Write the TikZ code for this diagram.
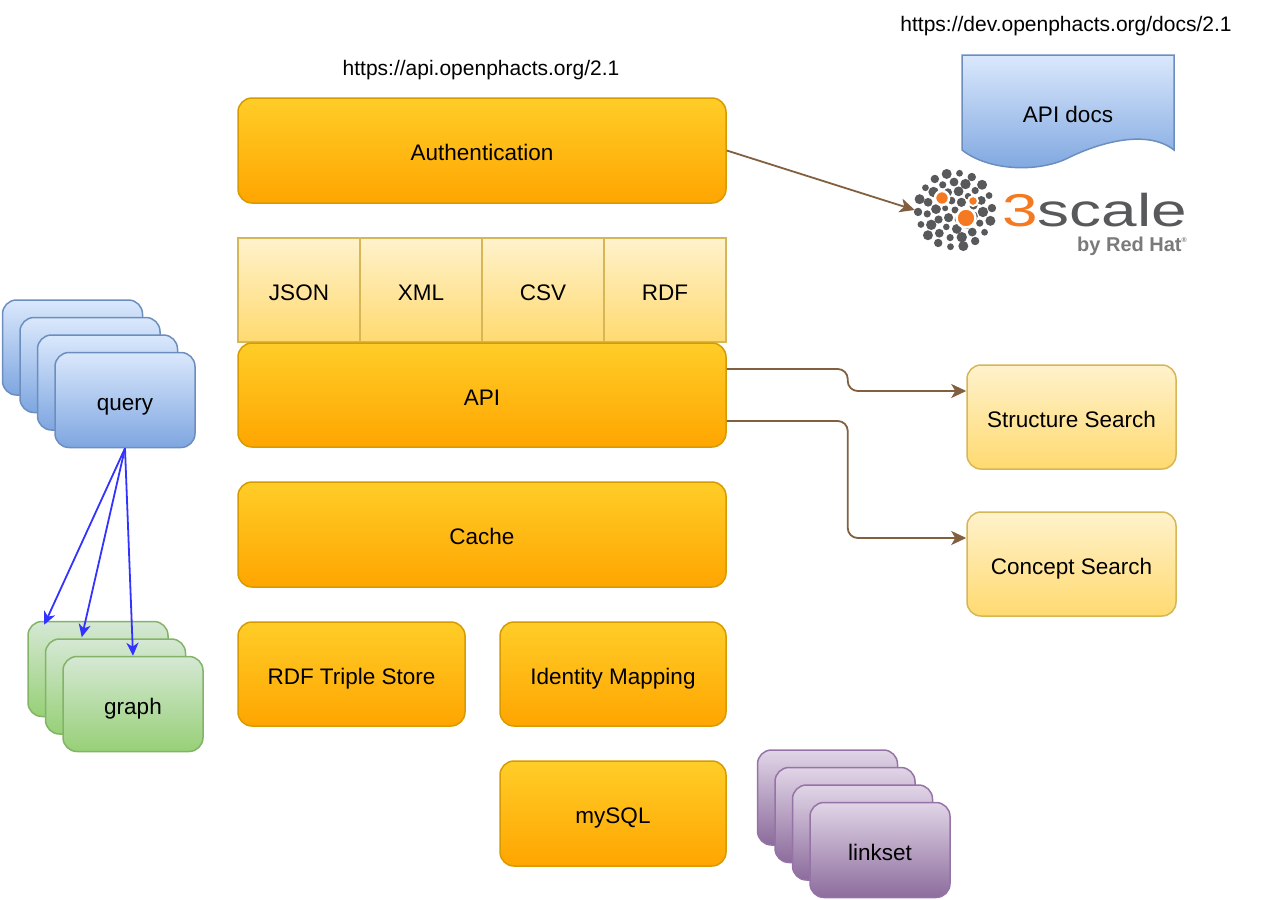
\documentclass[tikz,border=0pt]{standalone}
\usepackage{fontspec}
\setmainfont{Liberation Sans}
\usetikzlibrary{arrows.meta,calc}
\definecolor{layer top}{HTML}{FFCD28}
\definecolor{layer bottom}{HTML}{FFA500}
\definecolor{layer edge}{HTML}{D79B00}
\definecolor{format top}{HTML}{FFF2CC}
\definecolor{format bottom}{HTML}{FFDA70}
\definecolor{format edge}{HTML}{D6B656}
\definecolor{query top}{HTML}{DAE8FC}
\definecolor{query bottom}{HTML}{7EA6E0}
\definecolor{query edge}{HTML}{6C8EBF}
\definecolor{graph top}{HTML}{D5E8D4}
\definecolor{graph bottom}{HTML}{97D077}
\definecolor{graph edge}{HTML}{82B366}
\definecolor{linkset top}{HTML}{E1D5E7}
\definecolor{linkset bottom}{HTML}{8C6C9C}
\definecolor{linkset edge}{HTML}{9673A6}
\definecolor{link brown}{HTML}{82603F}
\definecolor{fanout blue}{HTML}{3333FF}
\definecolor{scale orange}{HTML}{F47920}
\definecolor{scale grey}{HTML}{58595B}
\definecolor{redhat grey}{HTML}{7A7A7A}
\def\docsheet{(962,55) -- (1174,55) -- (1174,150) .. controls (1146,128) and (1096,144) .. (1068,158) .. controls (1040,172) and (990,172) .. (962,150) -- cycle}
\tikzset{box/.style={draw, line width=1.5pt, inner sep=0pt, align=center, text height=22pt, text depth=2pt, font=\fontsize{22.5}{27}\selectfont},
	layer/.style={box, rounded corners=14pt, draw=layer edge, top color=layer top, bottom color=layer bottom},
	format/.style={box, line width=1.2pt, draw=format edge, top color=format top, bottom color=format bottom, minimum width=122pt, minimum height=104pt},
	search/.style={box, rounded corners=14pt, draw=format edge, top color=format top, bottom color=format bottom, minimum width=209pt, minimum height=104pt},
	stack/.style={box, rounded corners=14pt, minimum width=140pt, minimum height=95pt},
	query/.style={stack, draw=query edge, top color=query top, bottom color=query bottom},
	graph/.style={stack, draw=graph edge, top color=graph top, bottom color=graph bottom},
	linkset/.style={stack, draw=linkset edge, top color=linkset top, bottom color=linkset bottom},
	url/.style={font=\fontsize{21}{25}\selectfont},
	link/.style={draw=link brown, line width=1.8pt, -{Stealth[length=15pt,width=14pt,inset=4pt]}},
	fanout/.style={draw=fanout blue, line width=1.8pt, -{Stealth[length=13pt,width=12pt,inset=4pt]}}}

\begin{document}
\begin{tikzpicture}[x=1pt,y=-1pt]
		\useasboundingbox (0,0) rectangle (1270,900);
		\node[url] (apiurl) at (481,70) {https://api.openphacts.org/2.1};
		\node[url] (docsurl) at (1066,26) {https://dev.openphacts.org/docs/2.1};
		
		\node[layer, minimum width=488pt, minimum height=105pt] (auth) at (482,150.5) {Authentication};
		\foreach \name/\label [count=\i] in {json/JSON,xml/XML,csv/CSV,rdf/RDF}
			\node[format] (\name) at ({299+122*(\i-1)},290) {\label};
		\node[layer, minimum width=488pt, minimum height=104pt] (api) at (482,395) {API};
		\node[layer, minimum width=488pt, minimum height=105pt] (cache) at (482,534.5) {Cache};
		\node[layer, minimum width=227pt, minimum height=104pt] (store) at (351.5,674) {RDF Triple Store};
		\node[layer, minimum width=226pt, minimum height=104pt] (ims) at (613,674) {Identity Mapping};
		\node[layer, minimum width=226pt, minimum height=105pt] (mysql) at (613,813.5) {mySQL};
		
		\node[search] (sts) at (1071.5,417) {Structure Search};
		\node[search] (cs) at (1071.5,564) {Concept Search};
		
		\draw[line width=1.5pt, draw=query edge, top color=query top, bottom color=query bottom] \docsheet;
		\node[box, draw=none] (docs) at (1068,112) {API docs};
		
		\node[circle, minimum size=80pt, inner sep=0pt] (logo) at (955,210) {};
		\foreach \r/\n/\s in {37/18/3.4,28/15/3.6,19/11/3.3,10/6/3.0}
			\foreach \k in {1,...,\n}{
				\pgfmathsetmacro\d{\s+0.8*mod(\k,3)}
				\fill[scale grey] ($(logo.center)+({\k*360/\n+\r}:\r)$) circle[radius=\d pt];
			}
		\fill[scale grey] (logo.center) circle[radius=3.5pt];
		\filldraw[scale orange, draw=white, line width=2.5pt] (966,218) circle[radius=9.5pt];
		\filldraw[scale orange, draw=white, line width=2.5pt] (942,198) circle[radius=7pt];
		\filldraw[scale orange, draw=white, line width=2pt] (973,201) circle[radius=5pt];
		\node[anchor=base west, inner sep=0pt, font=\fontsize{46}{46}\selectfont] (scalename) at (1002,226) {\scalebox{1.39}[1]{\textcolor{scale orange}{3}\textcolor{scale grey}{scale}}};
		\node[anchor=base east, inner sep=0pt, text=redhat grey, font=\bfseries\fontsize{20}{20}\selectfont] (redhat) at (1187,251) {by Red Hat\raisebox{9pt}{\fontsize{7}{7}\selectfont ®}};
		
		\foreach \i in {3,2,1}
			\node[query] (query\i) at ({125-17.5*\i},{400-17.5*\i}) {};
		\node[query] (query) at (125,400) {query};
		\foreach \i in {2,1}
			\node[graph] (graph\i) at ({133-17.5*\i},{704-17.5*\i}) {};
		\node[graph] (graph) at (133,704) {graph};
		\foreach \i in {3,2,1}
			\node[linkset] (linkset\i) at ({880-17.5*\i},{850-17.5*\i}) {};
		\node[linkset] (linkset) at (880,850) {linkset};
		
		\draw[fanout] (query.south) -- ($(graph2.north west)+(17,4)$);
		\draw[fanout] (query.south) -- ($(graph1.north west)+(37,-1)$);
		\draw[fanout] (query.south) -- (graph.north);
		
		\draw[link] (auth.east) -- (logo.west);
		\draw[link, rounded corners=10pt] ($(api.east)+(0,-26)$) -- ++(121,0) |- ($(sts.west)+(0,-26)$);
		\draw[link, rounded corners=10pt] ($(api.east)+(0,26)$) -- ++(121,0) |- ($(cs.west)+(0,-26)$);
		\end{tikzpicture}
\end{document}
